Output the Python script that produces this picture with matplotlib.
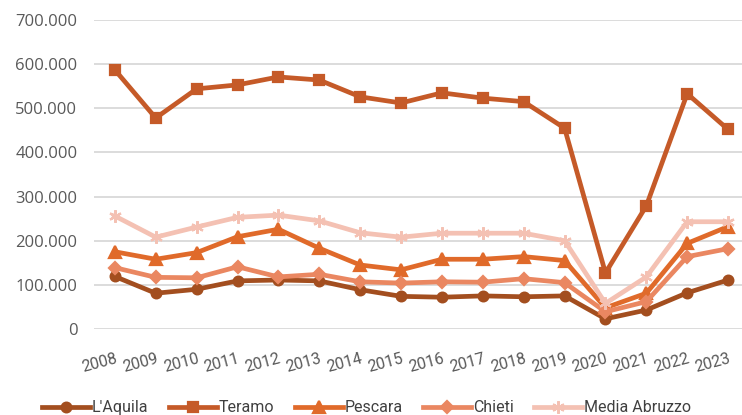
import matplotlib
matplotlib.use("Agg")
import matplotlib.pyplot as plt
from matplotlib.ticker import FuncFormatter

# dati
anni = ["2008", "2009", "2010", "2011", "2012", "2013", "2014", "2015",
        "2016", "2017", "2018", "2019", "2020", "2021", "2022", "2023"]
laquila = [119000, 81000, 90000, 109000, 111000, 109000, 89000, 74000,
           72000, 75000, 73000, 75000, 23000, 43000, 82000, 111000]
teramo = [587000, 478000, 544000, 553000, 571000, 564000, 526000, 512000,
          535000, 523000, 515000, 455000, 127000, 279000, 533000, 452000]
pescara = [175000, 158000, 173000, 209000, 226000, 183000, 145000, 134000,
           158000, 158000, 164000, 155000, 48000, 81000, 194000, 232000]
chieti = [139000, 117000, 116000, 141000, 118000, 124000, 107000, 104000,
          107000, 106000, 114000, 105000, 39000, 62000, 164000, 182000]
media = [256000, 208000, 231000, 253000, 258000, 245000, 218000, 208000,
         217000, 217000, 217000, 200000, 58000, 118000, 243000, 243000]

serie = [
    ("L'Aquila", laquila, "#A34E1F", "o", 7),
    ("Teramo", teramo, "#C55A28", "s", 7.5),
    ("Pescara", pescara, "#E06A2A", "^", 8),
    ("Chieti", chieti, "#EA8761", "D", 6),
    ("Media Abruzzo", media, "#F4C1B3", (6, 2, 0), 9),
]

fig = plt.figure(figsize=(7.42, 4.15), dpi=100)
ax = fig.add_axes([94 / 742, 86 / 415, 1 - 94 / 742, 309 / 415])

x = list(range(len(anni)))
for nome, valori, colore, marker, ms in serie:
    ax.plot(x, valori, color=colore, lw=3.4, marker=marker, ms=ms,
            mfc=colore, mec=colore, mew=1.6, label=nome, solid_joinstyle="round")

ax.set_ylim(0, 700000)
ax.set_yticks(range(0, 700001, 100000))
ax.yaxis.set_major_formatter(FuncFormatter(lambda v, p: f"{int(v):,}".replace(",", ".")))
ax.set_xlim(-0.51, 15.34)
ax.set_xticks(x)
ax.set_xticklabels(anni, rotation=15, ha="right", rotation_mode="anchor")

ax.grid(axis="y", color="#D9D9D9", lw=1.3)
ax.set_axisbelow(True)
for s in ax.spines.values():
    s.set_visible(False)
ax.tick_params(axis="both", length=0, labelcolor="#595959")
for t in ax.get_yticklabels():
    t.set_fontfamily(["Open Sans", "DejaVu Sans"])
    t.set_fontsize(12)
for t in ax.get_xticklabels():
    t.set_fontfamily(["Roboto", "DejaVu Sans"])
    t.set_fontsize(11.5)
ax.tick_params(axis="y", pad=12)
ax.tick_params(axis="x", pad=16)

leg = fig.legend(loc="lower center", bbox_to_anchor=(0.494, -0.035), ncol=5, frameon=False,
                 handlelength=3.0, handletextpad=0.1, columnspacing=1.3,
                 prop={"family": ["Roboto", "DejaVu Sans"], "size": 11.5})
for t in leg.get_texts():
    t.set_color("#404040")

fig.savefig("out.png", dpi=100)
